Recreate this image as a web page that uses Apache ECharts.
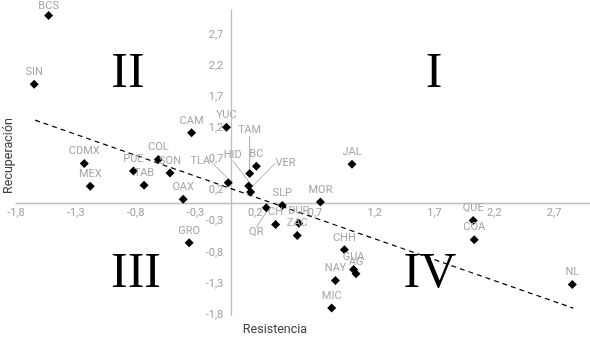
<!DOCTYPE html>
<html><head><meta charset="utf-8">
<script src="https://cdn.jsdelivr.net/npm/echarts@6/dist/echarts.min.js"></script>
<style>html,body{margin:0;padding:0;background:#fff}#c{width:590px;height:338px}</style>
</head><body><div id="c"></div>
<script>
const states = ['BCS','SIN','CAM','YUC','CDMX','COL','SON','PUE','MEX','TAB','OAX','TLA','GRO','TAM','HID','VER','BC','SLP','CH','QR','MOR','DUR','ZAC','CHH','GUA','AG','NAY','MIC','JAL','QUE','COA','NL'];
const resistencia = [-1.527,-1.648,-0.332,-0.040,-1.229,-0.610,-0.512,-0.818,-1.179,-0.729,-0.402,-0.025,-0.352,0.154,0.146,0.162,0.210,0.427,0.371,0.293,0.746,0.565,0.552,0.946,1.023,1.043,0.871,0.840,1.010,2.023,2.032,2.852];
const recuperacion = [3.01,1.906,1.126,1.218,0.633,0.698,0.482,0.514,0.267,0.284,0.058,0.324,-0.640,0.472,0.272,0.176,0.590,-0.039,-0.345,-0.076,0.015,-0.324,-0.522,-0.752,-1.070,-1.139,-1.247,-1.687,0.622,-0.280,-0.591,-1.311];
const trendX = [-1.64, 2.86];
const trendY = [1.33, -1.69];
const xTicks = [-1.8,-1.3,-0.8,-0.3,0.2,0.7,1.2,1.7,2.2,2.7];
const yTicks = [-1.8,-1.3,-0.8,-0.3,0.2,0.7,1.2,1.7,2.2,2.7];
const xName = 'Resistencia';
const yName = 'Recuperación';
const quadrants = ['I','II','III','IV'];

// label offsets (style); leader lines only for the ones listed in withLine
const moved = {TLA:[-28,-10], HID:[-16,-19], TAM:[0,-31], VER:[35,-17], QR:[-10,37], BCS:[0,3]};
const withLine = {TLA:1, HID:1, TAM:1, VER:1, QR:1};
const fmt = v => (Math.round(v*10)/10).toFixed(1).replace('.', ',');
const gray = '#a6a6a6';
const XMIN=-1.8, XMAX=3.0, YMIN=-1.8, YMAX=3.1;

const chart = echarts.init(document.getElementById('c'), null, {renderer:'canvas'});
chart.setOption({
  animation:false,
  backgroundColor:'#fff',
  grid:{left:16,right:0,top:10,bottom:23,containLabel:false,outerBoundsMode:'none'},
  xAxis:{type:'value',min:XMIN,max:XMAX,position:'bottom',
    axisLine:{onZero:false,lineStyle:{color:'#bdbdbd',width:1.3}},
    axisTick:{show:false},splitLine:{show:false},
    axisLabel:{customValues:xTicks,formatter:fmt,color:'#9e9e9e',fontSize:11,fontFamily:'Roboto',margin:5}},
  yAxis:{type:'value',min:YMIN,max:YMAX,position:'left',
    axisLine:{onZero:false,lineStyle:{color:'#bdbdbd',width:1.3}},
    axisTick:{show:false},splitLine:{show:false},
    axisLabel:{customValues:yTicks,formatter:fmt,color:'#9e9e9e',fontSize:11,fontFamily:'Roboto',margin:8}},
  series:[
    {type:'line',data:trendX.map((x,i)=>[x,trendY[i]]),showSymbol:false,silent:true,z:1,
     lineStyle:{color:'#000',width:1.2,type:[5,4]}},
    {type:'scatter',symbol:'diamond',symbolSize:9,z:3,
     itemStyle:{color:'#000',opacity:1},
     label:{show:true,position:'top',distance:2,formatter:'{b}',color:gray,fontSize:11,fontFamily:'Roboto'},
     labelLine:{show:false,lineStyle:{color:gray,width:1}},
     labelLayout:function(p){const o=moved[states[p.dataIndex]];return o?{dx:o[0],dy:o[1]}:{};},
     data:states.map((s,i)=>({name:s,value:[resistencia[i],recuperacion[i]],labelLine:{show:!!withLine[s]}}))}
  ],
  graphic:[
    {type:'text',x:434,y:74,style:{text:quadrants[0],font:'50px "Liberation Serif"',fill:'#000',align:'center',verticalAlign:'middle'}},
    {type:'text',x:128,y:74,style:{text:quadrants[1],font:'50px "Liberation Serif"',fill:'#000',align:'center',verticalAlign:'middle'}},
    {type:'text',x:136,y:274,style:{text:quadrants[2],font:'50px "Liberation Serif"',fill:'#000',align:'center',verticalAlign:'middle'}},
    {type:'text',x:430,y:274,style:{text:quadrants[3],font:'50px "Liberation Serif"',fill:'#000',align:'center',verticalAlign:'middle'}},
    {type:'text',x:275,y:330,style:{text:xName,font:'12.5px Roboto',fill:'#404040',align:'center',verticalAlign:'middle'}},
    {type:'text',x:9,y:156,rotation:Math.PI/2,style:{text:yName,font:'12.5px Roboto',fill:'#404040',align:'center',verticalAlign:'middle'}}
  ]
});
// move both axes (line + labels) to cross at the origin, using the library's own scales
const origin = chart.convertToPixel({gridIndex:0},[0,0]);
const corner = chart.convertToPixel({gridIndex:0},[XMIN,YMIN]);
chart.setOption({xAxis:{offset:-(corner[1]-origin[1])}, yAxis:{offset:-(origin[0]-corner[0])}});
</script></body></html>
